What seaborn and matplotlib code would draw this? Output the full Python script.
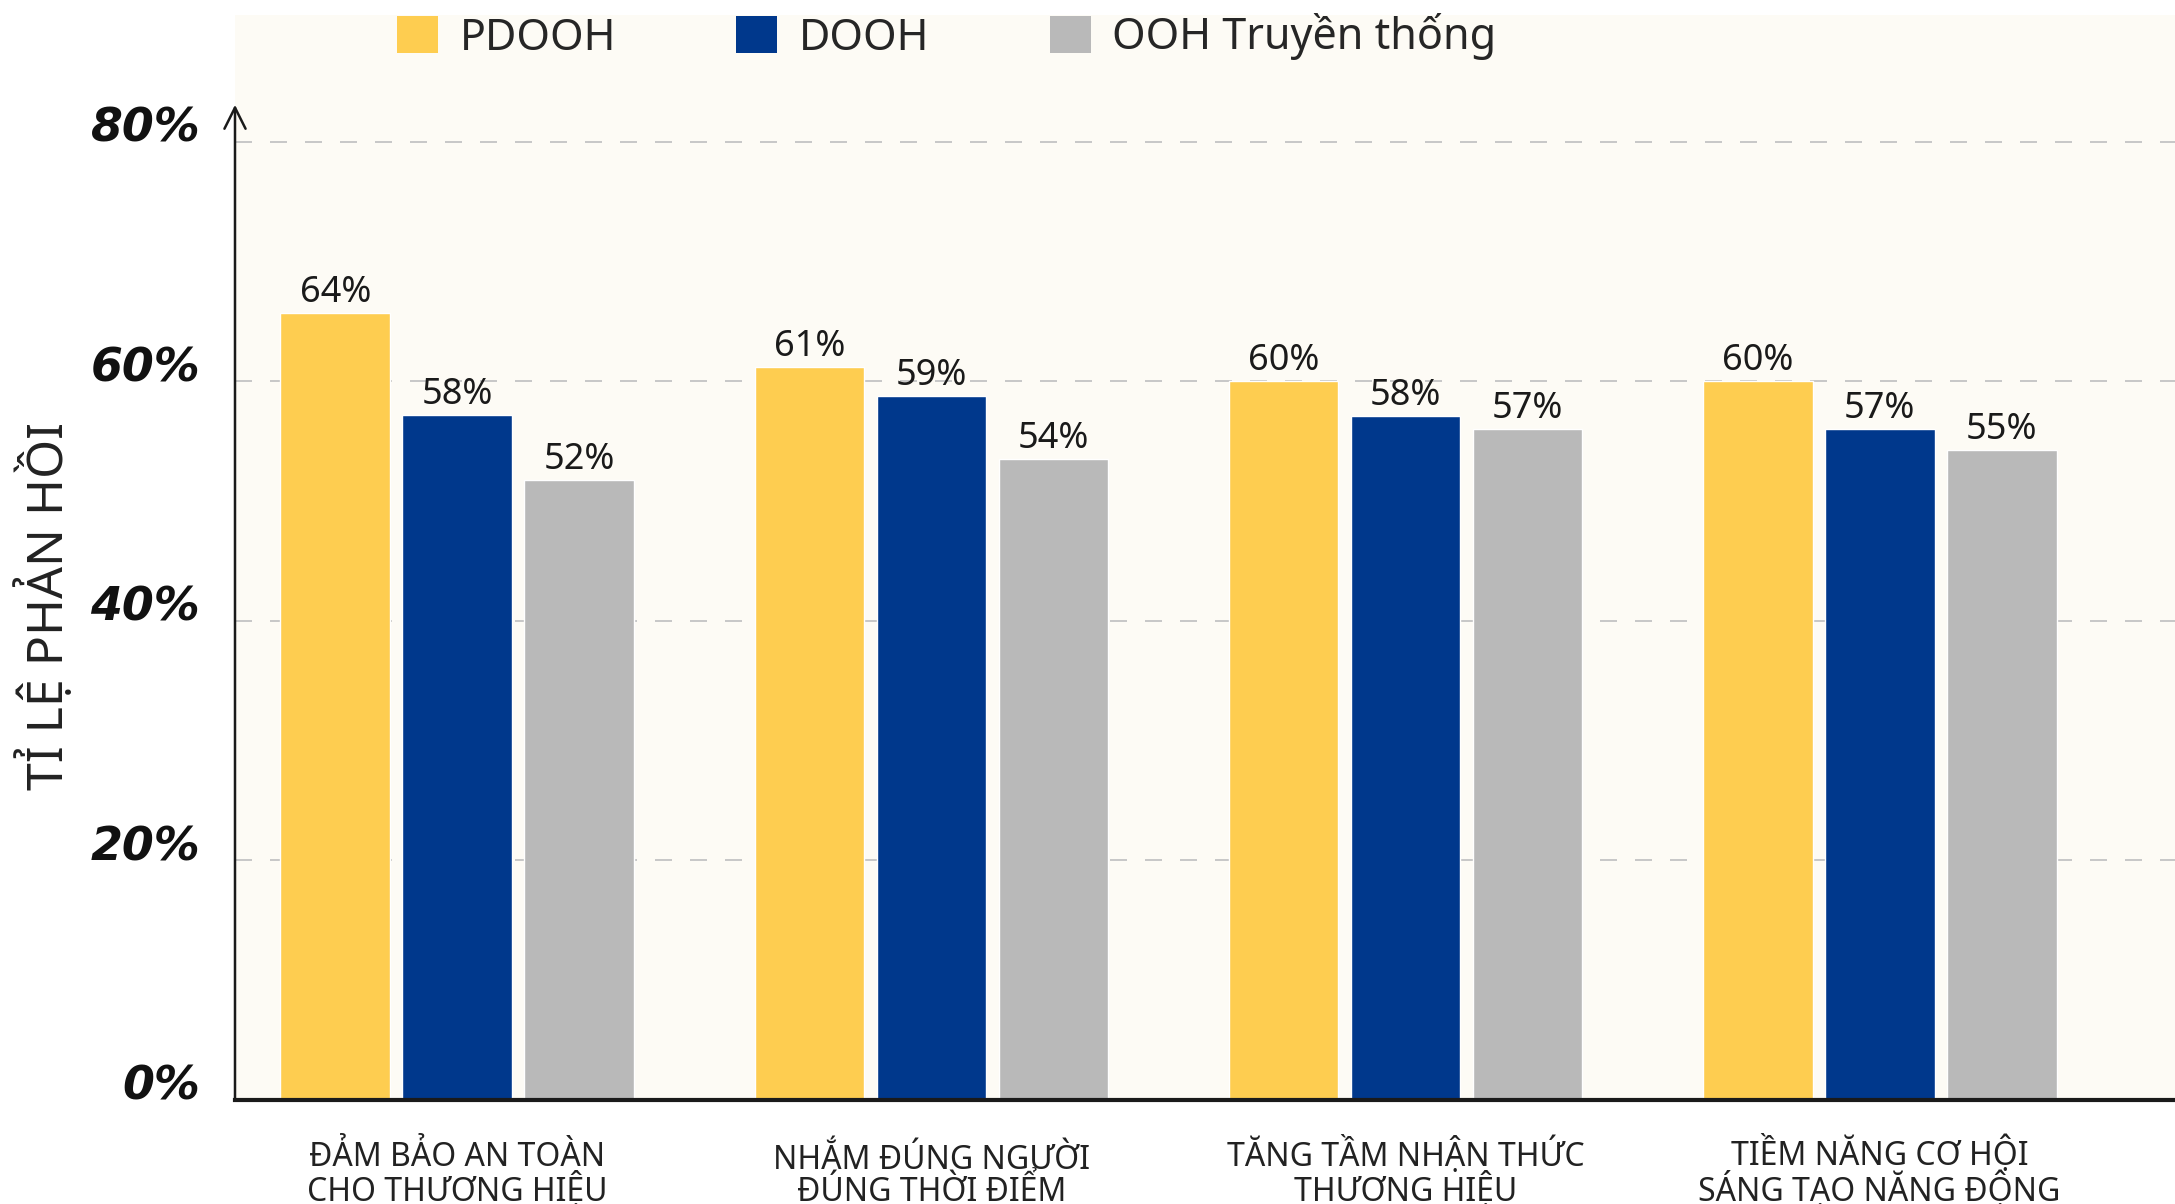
import numpy as np
import pandas as pd
import matplotlib
matplotlib.use("Agg")
import matplotlib.pyplot as plt
import seaborn as sns
from matplotlib.patches import Patch

# Datos
categorias = ["ĐẢM BẢO AN TOÀN\nCHO THƯƠNG HIỆU",
              "NHẮM ĐÚNG NGƯỜI\nĐÚNG THỜI ĐIỂM",
              "TĂNG TẦM NHẬN THỨC\nTHƯƠNG HIỆU",
              "TIỀM NĂNG CƠ HỘI\nSÁNG TẠO NĂNG ĐỘNG"]
series = ["PDOOH", "DOOH", "OOH Truyền thống"]
pdooh = [65.7, 61.2, 60.0, 60.0]
dooh = [57.2, 58.8, 57.1, 56.0]
ooh = [51.8, 53.5, 56.0, 54.3]
etiquetas_pdooh = ["64%", "61%", "60%", "60%"]
etiquetas_dooh = ["58%", "59%", "58%", "57%"]
etiquetas_ooh = ["52%", "54%", "57%", "55%"]
yticks = [0, 20, 40, 60, 80]
ytick_labels = ["0%", "20%", "40%", "60%", "80%"]
ylabel = "TỈ LỆ PHẢN HỒI"

colores = ["#FECD50", "#00388C", "#B9B9B9"]
crema = "#FDFBF5"
fuente = ["Noto Sans", "DejaVu Sans"]

df = pd.DataFrame({
    "categoria": categorias * 3,
    "serie": [s for s in series for _ in categorias],
    "valor": pdooh + dooh + ooh,
})

sns.set_style("white")
plt.rcParams["font.family"] = fuente

fig = plt.figure(figsize=(21.75, 12.04), dpi=100)
fig.patch.set_facecolor("white")
ax = fig.add_axes([235 / 2175, 1 - 1100 / 1204, 1 - 235 / 2175, (1100 - 15) / 1204])
ax.set_facecolor(crema)

sns.barplot(data=df, x="categoria", y="valor", hue="serie", order=categorias,
            hue_order=series, palette=colores, width=0.772, gap=0.1,
            saturation=1, ax=ax, zorder=3)

# grid punteado
for t in yticks[1:]:
    ax.axhline(t, color="#C8C8C8", lw=1.44, ls=(0, (8.5, 9)), zorder=1)

# etiquetas de las barras
for cont, labs in zip(ax.containers, [etiquetas_pdooh, etiquetas_dooh, etiquetas_ooh]):
    ax.bar_label(cont, labels=labs, padding=1.5, fontsize=26, fontweight="light",
                 color="#1a1a1a", family=fuente)

ax.set_xlim(-0.469, 3.623)
ax.set_ylim(0, 90.6)

ax.set_yticks(yticks)
ax.set_yticklabels(ytick_labels, fontsize=33, fontweight="bold", style="italic",
                   family="DejaVu Sans", color="#111111")
for lab in ax.get_yticklabels():
    lab.set_va("baseline")
ax.tick_params(axis="y", length=0, pad=25)

ax.set_xticks(range(len(categorias)))
ax.set_xticklabels(categorias, fontsize=23, fontweight="light", family=fuente,
                   color="#222222", linespacing=0.95, va="baseline")
ax.tick_params(axis="x", length=0, pad=73)
ax.set_xlabel("")

ax.set_ylabel(ylabel, fontsize=36, fontweight="light", family=fuente,
              color="#222222", va="center")
ax.yaxis.set_label_coords(-0.0975, 0.455)

for s in ["top", "right", "left"]:
    ax.spines[s].set_visible(False)
ax.spines["bottom"].set_color("#1a1a1a")
ax.spines["bottom"].set_linewidth(3)
ax.spines["bottom"].set_zorder(5)

# eje y con flecha
ax.annotate("", xy=(0, 83.1), xytext=(0, 0),
            xycoords=("axes fraction", "data"), textcoords=("axes fraction", "data"),
            arrowprops=dict(arrowstyle="->", color="#1a1a1a", lw=1.8,
                            mutation_scale=38, shrinkA=0, shrinkB=0),
            zorder=6, annotation_clip=False)

# leyenda
if ax.get_legend() is not None:
    ax.get_legend().remove()
handles = [Patch(facecolor=c, edgecolor="none") for c in colores]
fig.legend(handles, series, loc="center left",
           bbox_to_anchor=(397 / 2175, 1 - 37 / 1204), ncol=3, frameon=False,
           handlelength=0.95, handleheight=0.95, handletextpad=0.5,
           columnspacing=2.8, borderpad=0, borderaxespad=0,
           prop={"family": fuente, "weight": "light", "size": 31})

fig.savefig("out.png", dpi=100, facecolor=fig.get_facecolor())
